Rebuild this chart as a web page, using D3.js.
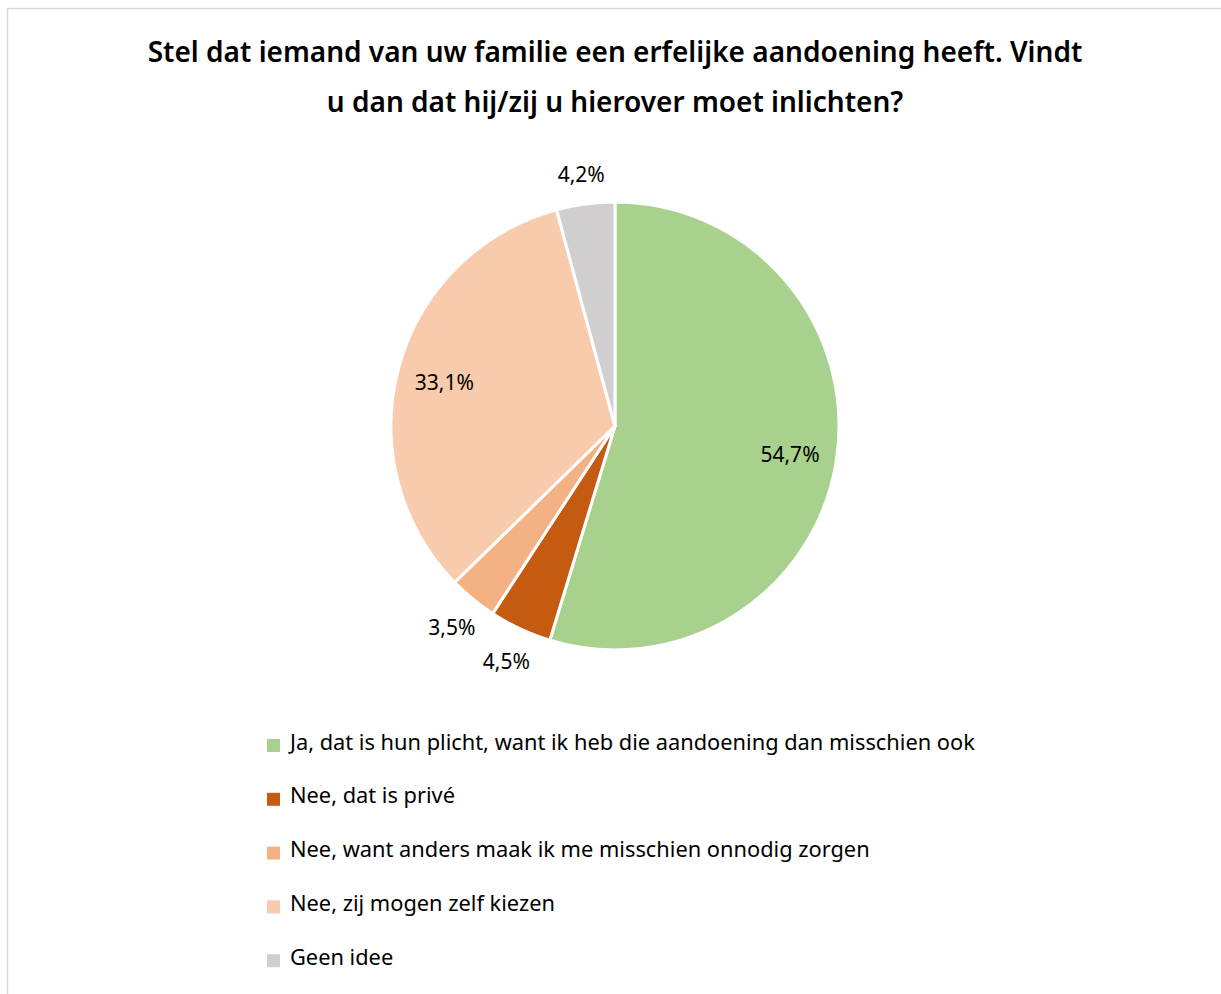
<!DOCTYPE html>
<html>
<head>
<meta charset="utf-8">
<script src="https://cdn.jsdelivr.net/npm/d3@7"></script>
<style>
  body { margin: 0; background: #fff; }
  svg { display: block; font-family: "Noto Sans", "Open Sans", sans-serif; }
</style>
</head>
<body>
<div id="chart"></div>
<script>
// chart data
var titleLines = ["Stel dat iemand van uw familie een erfelijke aandoening heeft. Vindt",
                  "u dan dat hij/zij u hierover moet inlichten?"];
var categories = ["Ja, dat is hun plicht, want ik heb die aandoening dan misschien ook",
                  "Nee, dat is privé",
                  "Nee, want anders maak ik me misschien onnodig zorgen",
                  "Nee, zij mogen zelf kiezen",
                  "Geen idee"];
var values = [54.7, 4.5, 3.5, 33.1, 4.2];
var colors = ["#a9d18e", "#c55a11", "#f4b183", "#f8cbad", "#d0cece"];
// labels inside the slice or outside
var labelInside = [true, false, false, true, false];

var width = 1221;
var height = 994;
var cx = 615, cy = 426, radius = 224;

var svg = d3.select("#chart").append("svg")
    .attr("width", width)
    .attr("height", height);

// frame
svg.append("rect")
    .attr("x", 7.5)
    .attr("y", 8.5)
    .attr("width", width + 10)
    .attr("height", height + 10)
    .attr("fill", "none")
    .attr("stroke", "#d9d9d9")
    .attr("stroke-width", 1.5);

// title
svg.append("g").selectAll("text")
    .data(titleLines)
    .enter()
    .append("text")
    .attr("x", 615)
    .attr("y", function(d, i) { return 62 + i * 50; })
    .attr("text-anchor", "middle")
    .style("font-size", "28px")
    .style("font-weight", 600)
    .attr("fill", "#000")
    .text(function(d) { return d; });

var pie = d3.pie().sort(null).value(function(d) { return d; });
var arcs = pie(values);

var arc = d3.arc().innerRadius(0).outerRadius(radius);
var labelArcIn = d3.arc().innerRadius(radius * 0.79).outerRadius(radius * 0.79);
var labelArcOut = d3.arc().innerRadius(radius + 33).outerRadius(radius + 33);

var g = svg.append("g").attr("transform", "translate(" + cx + "," + cy + ")");

g.selectAll("path.slice")
    .data(arcs)
    .enter()
    .append("path")
    .attr("class", "slice")
    .attr("d", arc)
    .attr("fill", function(d, i) { return colors[i]; })
    .attr("stroke", "#fff")
    .attr("stroke-width", 3)
    .attr("stroke-linejoin", "round");

g.selectAll("text.lbl")
    .data(arcs)
    .enter()
    .append("text")
    .attr("class", "lbl")
    .attr("transform", function(d, i) {
        var c = labelInside[i] ? labelArcIn.centroid(d) : labelArcOut.centroid(d);
        return "translate(" + c[0] + "," + (c[1] + 3) + ")";
    })
    .attr("text-anchor", "middle")
    .attr("dy", "0.35em")
    .style("font-size", "21px")
    .attr("fill", "#000")
    .text(function(d) { return d.data.toFixed(1).replace(".", ",") + "%"; });

// legend
var legend = svg.append("g").attr("transform", "translate(267,0)");
var rows = legend.selectAll("g.row")
    .data(categories)
    .enter()
    .append("g")
    .attr("class", "row")
    .attr("transform", function(d, i) { return "translate(0," + (743 + i * 53.8) + ")"; });

rows.append("rect")
    .attr("x", 0)
    .attr("y", -4)
    .attr("width", 13)
    .attr("height", 13)
    .attr("fill", function(d, i) { return colors[i]; });

rows.append("text")
    .attr("x", 23)
    .attr("y", 0)
    .attr("dy", "0.3em")
    .style("font-size", "21.8px")
    .attr("fill", "#000")
    .text(function(d) { return d; });
</script>
</body>
</html>
